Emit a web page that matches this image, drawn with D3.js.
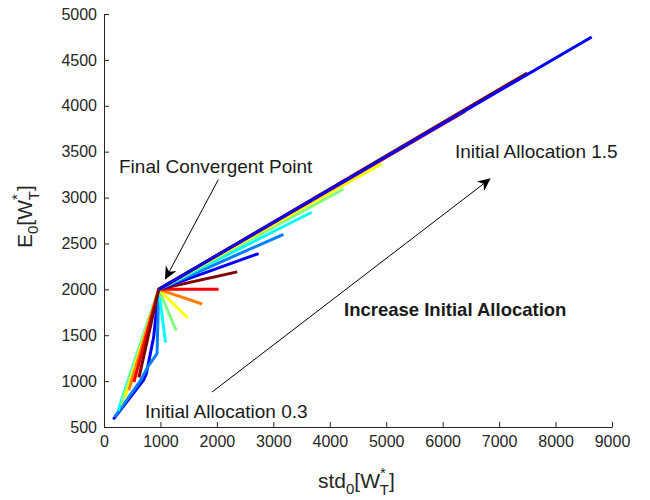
<!DOCTYPE html>
<html>
<head>
<meta charset="utf-8">
<script src="https://cdn.jsdelivr.net/npm/d3@7/dist/d3.min.js"></script>
<style>
body { margin: 0; background: #fff; }
text { font-family: "Liberation Sans", Arial, Helvetica, sans-serif; }
</style>
</head>
<body>
<svg id="chart" width="650" height="500"></svg>
<script>
// jet(8) colours, cycled over the runs
var jetColors = ["#0000ff", "#0080ff", "#00ffff", "#80ff80", "#ffff00", "#ff8000", "#ff0000", "#800000"];

// one run per initial allocation
var allocations = [0.3, 0.375, 0.45, 0.525, 0.6, 0.675, 0.75, 0.825, 0.9,
                   0.975, 1.05, 1.125, 1.2, 1.275, 1.35, 1.425, 1.5];

// [std, E] of the point all runs end up in
var finalPoint = [970, 2000];

// points of each run before the final point
var lowerPaths = [
    [[165, 583], [700, 1010], [750, 1080], [880, 1480]],
    [[190, 610], [640, 1000], [780, 1160], [940, 1300]],
    [[250, 680]],
    [[300, 740]],
    [[370, 820]],
    [[440, 900]],
    [[530, 990]],
    [[620, 1040]],
    [], [], [], [], [], [], [], [], []
];

// points of each run after the final point (spokes)
var spokeEnds = [
    null, null,
    [1090, 1420], [1280, 1550], [1480, 1690], [1740, 1840], [2030, 2000], [2360, 2190],
    [2740, 2390], [3180, 2600], [3680, 2840], [4240, 3090], [4920, 3370],
    [5600, 3655], [6400, 3940], [7500, 4358], [8640, 4750]
];

var xTicks = [0, 1000, 2000, 3000, 4000, 5000, 6000, 7000, 8000, 9000];
var yTicks = [500, 1000, 1500, 2000, 2500, 3000, 3500, 4000, 4500, 5000];

// annotations: [std, E] positions
var convergentLabel = { text: "Final Convergent Point", at: [266, 3267] };
var convergentArrow = { from: [2025, 3195], to: [1080, 2105] };
var highLabel = { text: "Initial Allocation 1.5", at: [6219, 3431] };
var lowLabel = { text: "Initial Allocation 0.3", at: [726, 598] };
var increaseArrow = { from: [1914, 881], to: [6852, 3210] };
var increaseLabel = { text: "Increase Initial Allocation", at: [4252, 1709] };

var svg = d3.select("#chart");
var x = d3.scaleLinear().domain([0, 9000]).range([104, 612]);
var y = d3.scaleLinear().domain([500, 5000]).range([427, 14]);
var axisColor = "#262626";

// axes (ticks pointing inward)
var gx = svg.append("g")
    .attr("transform", "translate(0,427)")
    .call(d3.axisBottom(x).tickValues(xTicks).tickFormat(d3.format("d"))
        .tickSizeInner(-5).tickSizeOuter(0).tickPadding(9));
var gy = svg.append("g")
    .attr("transform", "translate(104,0)")
    .call(d3.axisLeft(y).tickValues(yTicks).tickFormat(d3.format("d"))
        .tickSizeInner(-5).tickSizeOuter(0).tickPadding(7));

[gx, gy].forEach(function(g) {
    g.selectAll("path, line").attr("stroke", axisColor);
    g.selectAll("text")
        .attr("fill", axisColor)
        .style("font-size", "16px")
        .style("font-family", "\"Liberation Sans\", Arial, sans-serif");
});

// runs
var runs = allocations.map(function(a, i) {
    var pts = lowerPaths[i].slice();
    pts.push(finalPoint);
    if (spokeEnds[i]) pts.push(spokeEnds[i]);
    return { alloc: a, color: jetColors[i % jetColors.length], points: pts };
});

var line = d3.line()
    .x(function(d) { return x(d[0]); })
    .y(function(d) { return y(d[1]); });

svg.append("g").selectAll("path")
    .data(runs)
    .enter()
    .append("path")
    .attr("d", function(d) { return line(d.points); })
    .attr("fill", "none")
    .attr("stroke", function(d) { return d.color; })
    .attr("stroke-width", 3)
    .attr("stroke-linejoin", "round");

// annotation arrows
function arrow(a) {
    var x1 = x(a.from[0]), y1 = y(a.from[1]),
        x2 = x(a.to[0]), y2 = y(a.to[1]),
        ang = Math.atan2(y2 - y1, x2 - x1),
        len = 13, half = 6, notch = 9;
    var ux = Math.cos(ang), uy = Math.sin(ang);
    svg.append("line")
        .attr("x1", x1).attr("y1", y1)
        .attr("x2", x2 - ux * notch).attr("y2", y2 - uy * notch)
        .attr("stroke", "#000")
        .attr("stroke-width", 1);
    var bx = x2 - ux * len, by = y2 - uy * len;
    var pts = [
        [x2, y2],
        [bx - uy * half, by + ux * half],
        [x2 - ux * notch, y2 - uy * notch],
        [bx + uy * half, by - ux * half]
    ];
    svg.append("path")
        .attr("d", "M" + pts.join("L") + "Z")
        .attr("fill", "#000");
}
arrow(convergentArrow);
arrow(increaseArrow);

function label(l, size, weight) {
    svg.append("text")
        .attr("x", x(l.at[0]))
        .attr("y", y(l.at[1]))
        .attr("fill", "#1a1a1a")
        .style("font-size", size + "px")
        .style("font-weight", weight || "normal")
        .text(l.text);
}
label(convergentLabel, 19);
label(highLabel, 19);
label(lowLabel, 19);
label(increaseLabel, 18.5, "bold");

// axis titles
var xt = svg.append("text")
    .attr("x", 318).attr("y", 488)
    .attr("fill", axisColor)
    .style("font-size", "21px");
xt.append("tspan").text("std");
xt.append("tspan").attr("dy", 6).style("font-size", "15px").text("0");
xt.append("tspan").attr("dy", -6).text("[W");
xt.append("tspan").attr("dy", -10).style("font-size", "15px").text("*");
xt.append("tspan").attr("dx", -6).attr("dy", 17).style("font-size", "15px").text("T");
xt.append("tspan").attr("dy", -7).text("]");

var yt = svg.append("text")
    .attr("transform", "translate(32,248) rotate(-90)")
    .attr("fill", axisColor)
    .style("font-size", "21px");
yt.append("tspan").text("E");
yt.append("tspan").attr("dy", 6).style("font-size", "15px").text("0");
yt.append("tspan").attr("dy", -6).text("[W");
yt.append("tspan").attr("dy", -10).style("font-size", "15px").text("*");
yt.append("tspan").attr("dx", -6).attr("dy", 17).style("font-size", "15px").text("T");
yt.append("tspan").attr("dy", -7).text("]");
</script>
</body>
</html>
